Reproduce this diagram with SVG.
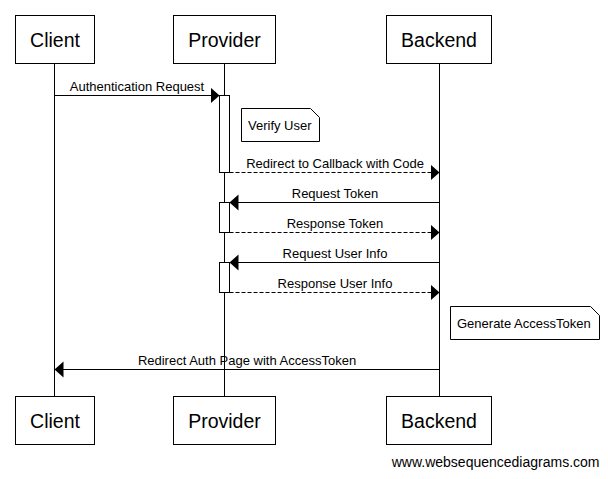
<svg xmlns="http://www.w3.org/2000/svg" width="608" height="479" viewBox="0 0 608 479">
<style>
  .box { fill: #ffffff; stroke: #000000; stroke-width: 1; }
  .title { font-family: "Liberation Sans", Arial, sans-serif; font-size: 19.5px; fill: #000000; text-anchor: middle; }
  .life { stroke: #000000; stroke-width: 1; fill: none; }
  .act { fill: #ffffff; stroke: #000000; stroke-width: 1; }
  .msg { stroke: #000000; stroke-width: 1; fill: none; }
  .dash { stroke-dasharray: 4 2; }
  .lbl { font-family: "Liberation Sans", Arial, sans-serif; font-size: 13px; fill: #000000; text-anchor: middle; }
  .note { fill: #ffffff; stroke: #000000; stroke-width: 1; }
  .ntext { font-family: "Liberation Sans", Arial, sans-serif; font-size: 13px; fill: #000000; }
  .wm { font-family: "Liberation Sans", Arial, sans-serif; font-size: 14px; fill: #000000; text-anchor: end; }
</style>
<defs>
  <marker id="arrow" markerUnits="userSpaceOnUse" markerWidth="10" markerHeight="17" refX="9" refY="8" orient="auto" viewBox="0 0 10 17">
    <path d="M0,0 L9,8 L0,16 Z" fill="#000000" stroke="none"/>
  </marker>
</defs>
<rect width="608" height="479" fill="#ffffff"/>

<g id="lifelines">
  <line class="life" x1="54.5" y1="63.5" x2="54.5" y2="396.5"/>
  <line class="life" x1="224.5" y1="63.5" x2="224.5" y2="396.5"/>
  <line class="life" x1="439.5" y1="63.5" x2="439.5" y2="396.5"/>
</g>

<g id="client">
  <rect class="box" x="15.5" y="15.5" width="79" height="48"/>
  <text class="title" x="55" y="46.5">Client</text>
  <rect class="box" x="15.5" y="396.5" width="79" height="48"/>
  <text class="title" x="55" y="427.5">Client</text>
</g>
<g id="provider">
  <rect class="box" x="173.5" y="15.5" width="102" height="48"/>
  <text class="title" x="224.5" y="46.5">Provider</text>
  <rect class="box" x="173.5" y="396.5" width="102" height="48"/>
  <text class="title" x="224.5" y="427.5">Provider</text>
</g>
<g id="backend">
  <rect class="box" x="386.5" y="15.5" width="105" height="48"/>
  <text class="title" x="439" y="46.5">Backend</text>
  <rect class="box" x="386.5" y="396.5" width="105" height="48"/>
  <text class="title" x="439" y="427.5">Backend</text>
</g>

<g id="activations">
  <rect class="act" x="219.5" y="95.5" width="10" height="77"/>
  <rect class="act" x="219.5" y="202.5" width="10" height="30"/>
  <rect class="act" x="219.5" y="262.5" width="10" height="30"/>
</g>

<g id="note-verify">
  <path class="note" d="M241.5,108.5 H310.5 L319.5,117.5 V141.5 H241.5 Z"/>
  <text class="ntext" x="248" y="129.5">Verify User</text>
</g>
<g id="note-generate">
  <path class="note" d="M450.5,306.5 H590.5 L599.5,315.5 V339.5 H450.5 Z"/>
  <text class="ntext" x="457" y="328">Generate AccessToken</text>
</g>

<g id="connectors">
  <line class="msg" x1="54.5" y1="95.5" x2="219.5" y2="95.5" marker-end="url(#arrow)"/>
  <text class="lbl" x="137" y="90.5">Authentication Request</text>

  <line class="msg dash" x1="229.5" y1="172.5" x2="439.5" y2="172.5" marker-end="url(#arrow)"/>
  <text class="lbl" x="335" y="167.5">Redirect to Callback with Code</text>

  <line class="msg" x1="439.5" y1="202.5" x2="229.5" y2="202.5" marker-end="url(#arrow)"/>
  <text class="lbl" x="335" y="197.5">Request Token</text>

  <line class="msg dash" x1="229.5" y1="232.5" x2="439.5" y2="232.5" marker-end="url(#arrow)"/>
  <text class="lbl" x="335" y="227.5">Response Token</text>

  <line class="msg" x1="439.5" y1="262.5" x2="229.5" y2="262.5" marker-end="url(#arrow)"/>
  <text class="lbl" x="335" y="257.5">Request User Info</text>

  <line class="msg dash" x1="229.5" y1="292.5" x2="439.5" y2="292.5" marker-end="url(#arrow)"/>
  <text class="lbl" x="335" y="287.5">Response User Info</text>

  <line class="msg" x1="439.5" y1="369.5" x2="54.5" y2="369.5" marker-end="url(#arrow)"/>
  <text class="lbl" x="247" y="364.5">Redirect Auth Page with AccessToken</text>
</g>

<text class="wm" x="599.5" y="467">www.websequencediagrams.com</text>
</svg>
